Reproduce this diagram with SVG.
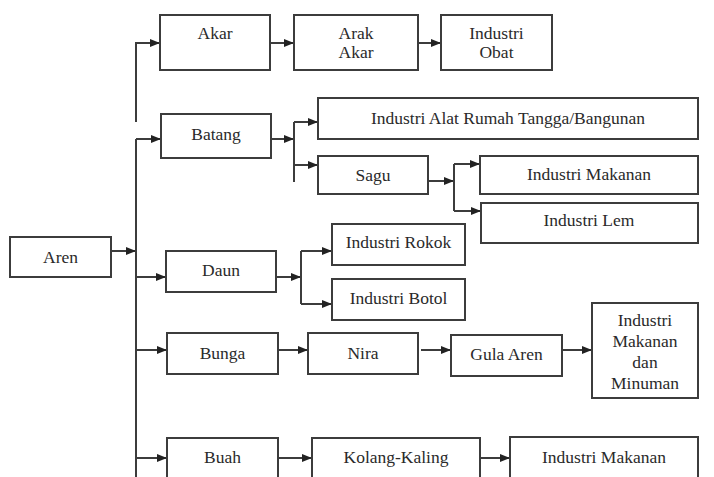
<svg xmlns="http://www.w3.org/2000/svg" width="714" height="477" viewBox="0 0 714 477">
<style>
.box{fill:#fff;stroke:#3c3c3c;stroke-width:2}
.t{font-family:"Liberation Serif","Times New Roman",serif;font-size:17.5px;fill:#2a2a2a;text-anchor:middle}
.c{fill:none;stroke:#3c3c3c;stroke-width:2}
.a{marker-end:url(#ah)}
</style>
<defs>
<marker id="ah" markerUnits="userSpaceOnUse" markerWidth="10" markerHeight="8" refX="10" refY="4" orient="auto">
<path d="M0,0 L10,4 L0,8 z" fill="#222"/>
</marker>
</defs>
<rect width="714" height="477" fill="#fff"/>
<g id="connectors">
<path class="c a" d="M111,251 H136"/>
<path class="c" d="M136,139 V477"/>
<path class="c a" d="M136,122 V43 H160"/>
<path class="c a" d="M136,139 H161"/>
<path class="c a" d="M136,277 H166"/>
<path class="c a" d="M136,350 H167"/>
<path class="c a" d="M136,458 H167"/>
<path class="c a" d="M270,43 H294"/>
<path class="c a" d="M418,43 H441"/>
<path class="c a" d="M271,139 H294"/>
<path class="c" d="M294,122 V182"/>
<path class="c a" d="M294,122 H318"/>
<path class="c a" d="M294,165 H318"/>
<path class="c a" d="M428,181 H454"/>
<path class="c" d="M454,164 V211"/>
<path class="c a" d="M454,164 H480"/>
<path class="c a" d="M454,211 H481"/>
<path class="c a" d="M276,277 H301"/>
<path class="c" d="M301,251 V304"/>
<path class="c a" d="M301,251 H332"/>
<path class="c a" d="M301,304 H332"/>
<path class="c a" d="M278,350 H308"/>
<path class="c a" d="M421,350 H451"/>
<path class="c a" d="M562,350 H592"/>
<path class="c a" d="M279,458 H312"/>
<path class="c a" d="M481,458 H510"/>
</g>
<g id="aren"><rect class="box" x="10" y="237" width="101" height="40"/><text class="t" x="60.5" y="263">Aren</text></g>
<g id="akar"><rect class="box" x="160" y="15" width="110" height="55"/><text class="t" x="215" y="39">Akar</text></g>
<g id="arak-akar"><rect class="box" x="294" y="15" width="124" height="55"/><text class="t" x="356" y="39">Arak</text><text class="t" x="356" y="58">Akar</text></g>
<g id="industri-obat"><rect class="box" x="441" y="15" width="111" height="55"/><text class="t" x="496.5" y="39">Industri</text><text class="t" x="496.5" y="58">Obat</text></g>
<g id="batang"><rect class="box" x="161" y="114" width="110" height="44"/><text class="t" x="216" y="140">Batang</text></g>
<g id="industri-alat"><rect class="box" x="318" y="98" width="380" height="41"/><text class="t" x="508" y="124">Industri Alat Rumah Tangga/Bangunan</text></g>
<g id="sagu"><rect class="box" x="318" y="156" width="110" height="38"/><text class="t" x="373" y="181">Sagu</text></g>
<g id="industri-makanan-1"><rect class="box" x="480" y="156" width="218" height="38"/><text class="t" x="589" y="180">Industri Makanan</text></g>
<g id="industri-lem"><rect class="box" x="481" y="203" width="217" height="40"/><text class="t" x="589" y="226">Industri Lem</text></g>
<g id="daun"><rect class="box" x="166" y="251" width="110" height="41"/><text class="t" x="221" y="276">Daun</text></g>
<g id="industri-rokok"><rect class="box" x="332" y="224" width="133" height="41"/><text class="t" x="398.5" y="248">Industri Rokok</text></g>
<g id="industri-botol"><rect class="box" x="332" y="279" width="133" height="41"/><text class="t" x="398.5" y="304">Industri Botol</text></g>
<g id="bunga"><rect class="box" x="167" y="333" width="111" height="41"/><text class="t" x="222.5" y="359">Bunga</text></g>
<g id="nira"><rect class="box" x="308" y="333" width="110" height="41"/><text class="t" x="363" y="359">Nira</text></g>
<g id="gula-aren"><rect class="box" x="451" y="335" width="111" height="41"/><text class="t" x="506.5" y="360">Gula Aren</text></g>
<g id="industri-makanan-minuman"><rect class="box" x="592" y="303" width="106" height="95"/><text class="t" x="645" y="326">Industri</text><text class="t" x="645" y="347">Makanan</text><text class="t" x="645" y="368">dan</text><text class="t" x="645" y="389">Minuman</text></g>
<g id="buah"><rect class="box" x="167" y="438" width="111" height="52"/><text class="t" x="222.5" y="463">Buah</text></g>
<g id="kolang-kaling"><rect class="box" x="312" y="438" width="168" height="52"/><text class="t" x="396" y="463">Kolang-Kaling</text></g>
<g id="industri-makanan-2"><rect class="box" x="510" y="437" width="188" height="53"/><text class="t" x="604" y="463">Industri Makanan</text></g>
</svg>
